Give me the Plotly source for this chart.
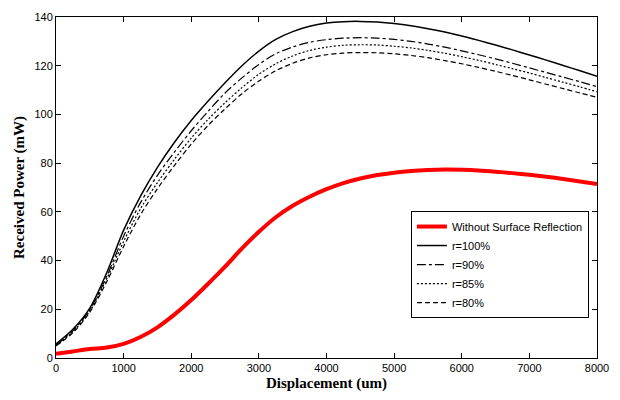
import plotly.graph_objects as go

displacement = [0, 250, 500, 750, 1000, 1250, 1500, 1750, 2000, 2250, 2500, 2750, 3000, 3250, 3500, 3750,
                4000, 4250, 4500, 4750, 5000, 5250, 5500, 5750, 6000, 6250, 6500, 6750, 7000, 7250, 7500, 7750, 8000]
no_reflection = [1.7, 2.7, 3.7, 4.3, 5.8, 8.6, 12.6, 17.8, 23.8, 30.5, 37.5, 45, 51.8, 57.8, 62.5, 66.2,
                 69.3, 71.8, 73.7, 75.1, 76.1, 76.8, 77.2, 77.4, 77.3, 77, 76.5, 75.9, 75.2, 74.4, 73.5, 72.5, 71.4]
r100 = [5.8, 11.8, 20.5, 35, 52.5, 66.5, 78.3, 88.5, 97.5, 105.5, 113, 120, 126, 130.8, 134, 136.2,
        137.5, 138.1, 138.2, 137.9, 137.3, 136.4, 135.2, 133.8, 132.2, 130.4, 128.5, 126.5, 124.4, 122.3, 120.1, 117.9, 115.7]
r90 = [5.3, 11.2, 19.8, 33.5, 50, 63.8, 75, 84.5, 93.3, 101.3, 108.8, 115, 120.5, 124.9, 127.7, 129.6,
       130.7, 131.3, 131.5, 131.3, 130.8, 130, 128.9, 127.6, 126.1, 124.5, 122.8, 121, 119.1, 117.2, 115.3, 113.4, 111.4]
r85 = [5.1, 10.8, 19.3, 32.5, 47.8, 61.3, 72, 81.5, 90.3, 98, 104.8, 111, 116.5, 120.8, 124, 126.3,
       127.6, 128.4, 128.6, 128.5, 128, 127.3, 126.3, 125.1, 123.7, 122.2, 120.5, 118.8, 117, 115.1, 113.2, 111.3, 109.3]
r80 = [4.9, 10.4, 18.8, 31.3, 45.8, 58.8, 69.5, 79, 87.8, 95.5, 102.3, 108.5, 113.7, 117.9, 121, 123.2,
       124.5, 125.2, 125.4, 125.3, 124.9, 124.2, 123.3, 122.1, 120.8, 119.3, 117.7, 116, 114.2, 112.4, 110.6, 108.8, 107]

series = [
    ("Without Surface Reflection", no_reflection, "red", 4, "solid"),
    ("r=100%", r100, "black", 1.5, "solid"),
    ("r=90%", r90, "black", 1.2, "dashdot"),
    ("r=85%", r85, "black", 1.2, "2px,2px"),
    ("r=80%", r80, "black", 1.2, "5px,3px"),
]

fig = go.Figure()
for name, ys, color, w, dash in series:
    fig.add_trace(go.Scatter(x=displacement, y=ys, mode="lines", name=name,
                             line=dict(color=color, width=w, dash=dash, shape="spline", smoothing=0.9)))

axis_common = dict(showgrid=False, zeroline=False, showline=True, linecolor="black", linewidth=1,
                   mirror="ticks", ticks="inside", ticklen=5, tickcolor="black",
                   tickfont=dict(family="Liberation Sans, Arial", size=11, color="black"))
fig.update_xaxes(range=[0, 8000], dtick=1000, tick0=0,
                 title=dict(text="<b>Displacement (um)</b>", font=dict(family="Liberation Serif, Times New Roman", size=15, color="black"), standoff=4),
                 **axis_common)
fig.update_yaxes(range=[0, 140], dtick=20, tick0=0,
                 title=dict(text="<b>Received Power (mW)</b>", font=dict(family="Liberation Serif, Times New Roman", size=15, color="black"), standoff=6),
                 **axis_common)

fig.update_layout(
    width=620, height=400,
    margin=dict(l=56, r=23, t=11, b=38),
    plot_bgcolor="white", paper_bgcolor="white",
    legend=dict(x=0.656, y=0.431, xanchor="left", yanchor="top",
                bordercolor="black", borderwidth=1, bgcolor="white",
                font=dict(family="Liberation Sans, Arial", size=11, color="black"),
                tracegroupgap=0, itemwidth=30),
)

fig.write_html("out.html")
